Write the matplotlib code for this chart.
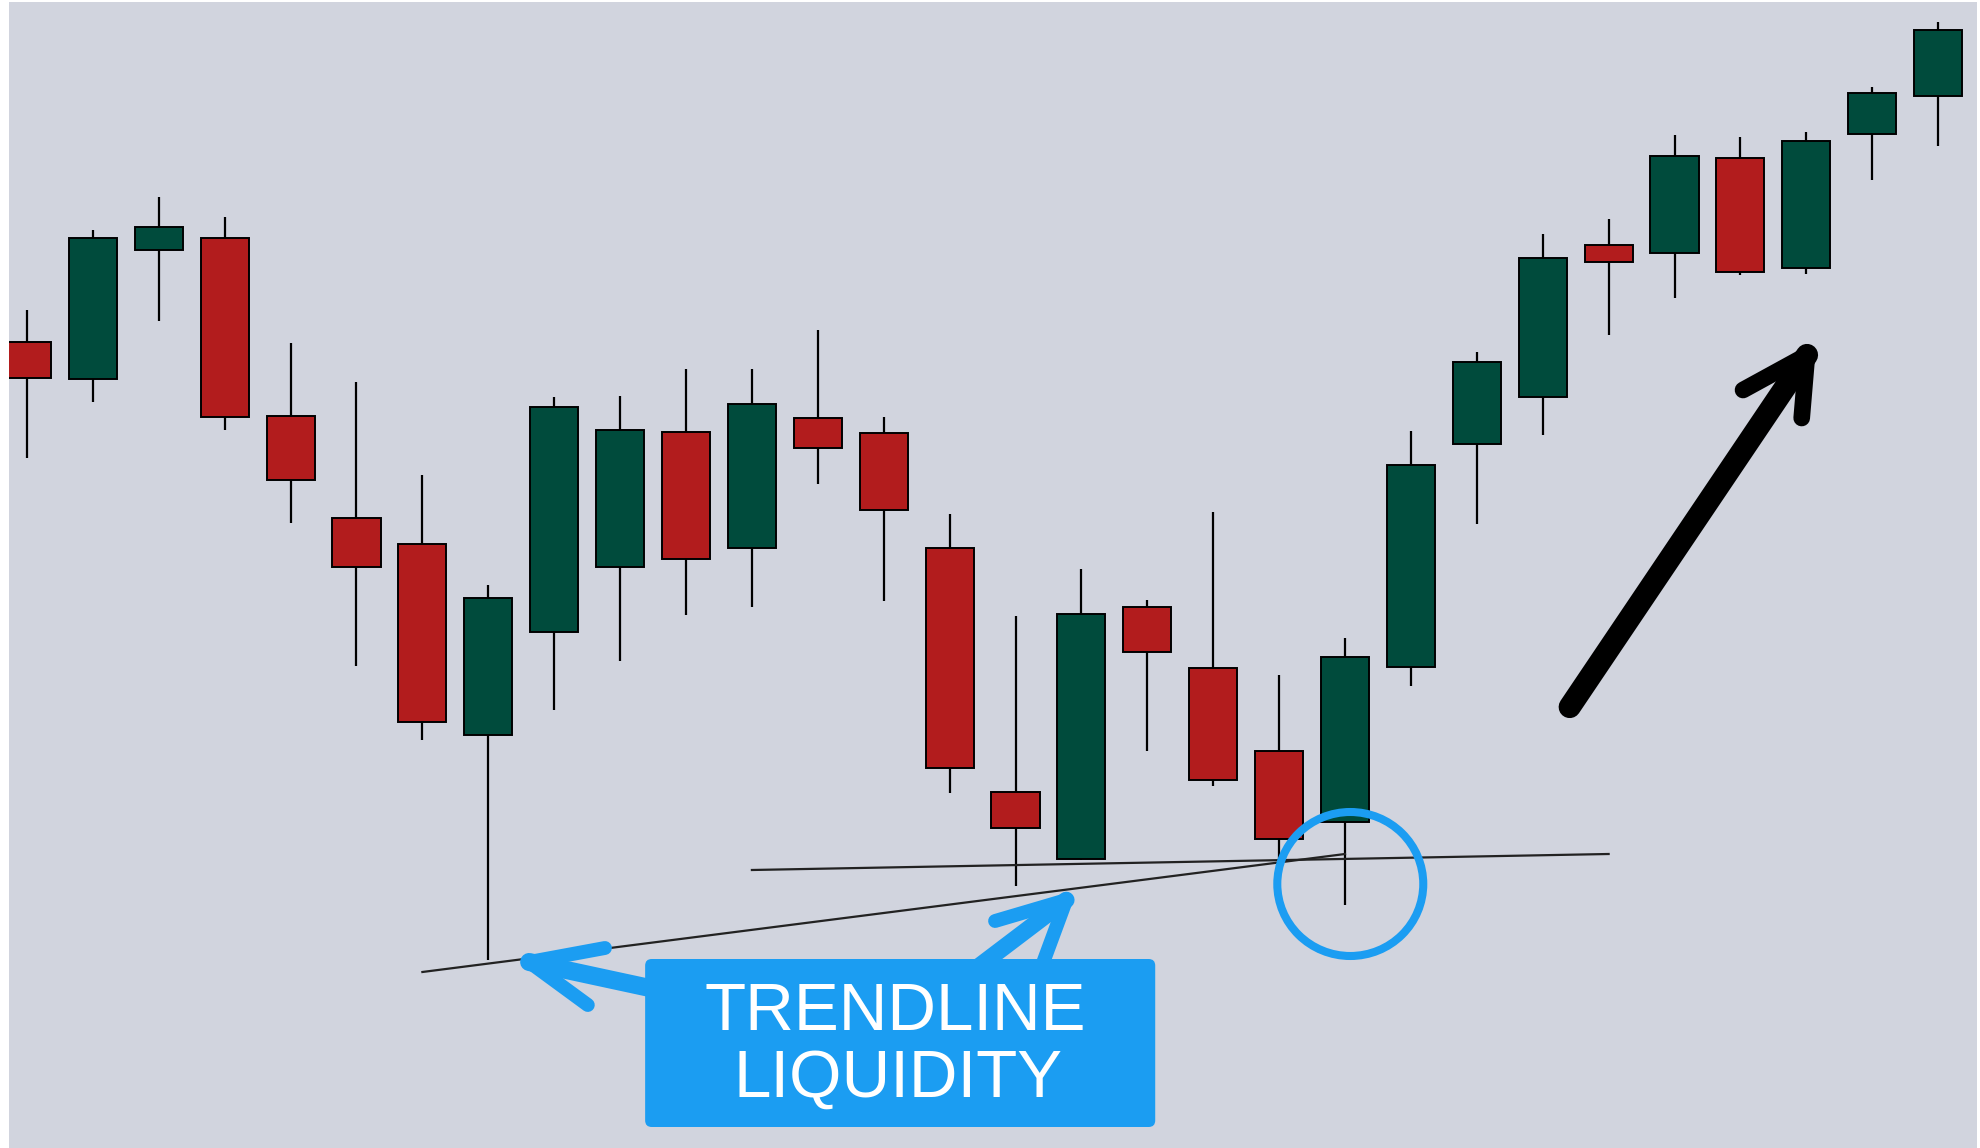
import matplotlib
matplotlib.use('Agg')
import matplotlib.pyplot as plt
from matplotlib.patches import FancyBboxPatch, Ellipse
import numpy as np

# OHLC values (30 candles)
opens  = [80.6, 76.9, 89.8, 91.0, 73.2, 63.0, 60.4, 41.3, 51.6, 58.1,
          71.6, 60.0, 73.0, 71.5, 60.0, 35.6, 28.9, 54.1, 48.0, 39.7,
          32.6, 48.1, 70.4, 75.1, 90.3, 89.5, 99.0, 88.0, 101.4, 105.2]
highs  = [83.8, 91.8, 95.1, 93.1, 80.5, 76.6, 67.3, 56.3, 75.1, 75.2,
          77.9, 77.9, 81.8, 73.1, 63.4, 53.2, 57.9, 54.8, 63.6, 47.3,
          51.0, 71.7, 79.6, 91.4, 92.9, 101.3, 101.1, 101.6, 106.1, 112.6]
lows   = [69.0, 74.6, 82.7, 71.8, 62.5, 48.2, 40.8, 18.8, 43.8, 48.7,
          53.3, 54.1, 66.4, 54.7, 35.5, 26.2, 28.8, 39.7, 36.2, 28.9,
          24.3, 46.2, 62.4, 71.3, 81.3, 85.0, 87.3, 87.4, 96.8, 100.2]
closes = [77.0, 91.0, 92.1, 73.1, 66.8, 58.1, 42.6, 55.0, 74.1, 71.8,
          58.9, 74.4, 70.0, 63.8, 38.0, 32.0, 53.4, 49.6, 36.8, 30.9,
          49.1, 68.3, 78.6, 89.0, 88.6, 99.2, 87.6, 100.7, 105.5, 111.8]

# trendlines (x = candle index, y = price)
trend_x = [6.0, 20.0]
trend_y = [17.6, 29.4]
flat_x = [11.0, 24.0]
flat_y = [27.8, 29.4]

# annotation anchors
label_lines = ['TRENDLINE', 'LIQUIDITY']
box_x = [9.38, 17.12]
box_y = [2.1, 18.9]
circle_center = (20.08, 26.4)
up_arrow = {'tail': (23.41, 44.1), 'tip': (27.01, 79.3),
            'barbs': [(26.04, 75.8), (26.93, 73.0)]}
blue_left = {'tail': (9.45, 16.0), 'tip': (7.62, 18.6),
             'barbs': [(8.77, 20.0), (8.51, 14.3)]}
blue_up = {'tail': (14.45, 18.2), 'tip': (15.77, 24.8),
           'barbs': [(14.69, 22.7), (15.40, 18.2)]}

bg = '#d1d4de'
red = '#b21c1d'
green = '#004b3c'
blue = '#1b9df2'

fig = plt.figure(figsize=(19.8, 11.48), dpi=100, facecolor='white')
ax = fig.add_axes([9 / 1980, 0, 1968 / 1980, 1146 / 1148])
ax.set_facecolor(bg)
ax.set_xlim(-0.273, 29.59)
ax.set_ylim(0, 114.6)
ax.set_xticks([])
ax.set_yticks([])
for s in ax.spines.values():
    s.set_visible(False)

x = np.arange(len(opens))
o = np.array(opens)
c = np.array(closes)
colors = [green if cc >= oo else red for oo, cc in zip(o, c)]

ax.vlines(x, lows, highs, color='black', linewidth=1.6, zorder=2)
ax.bar(x, c - o, bottom=o, width=0.73, color=colors,
       edgecolor='black', linewidth=1.4, zorder=3)

# trendlines
ax.plot(trend_x, trend_y, color='#222222', linewidth=1.6, zorder=4)
ax.plot(flat_x, flat_y, color='#222222', linewidth=1.6, zorder=4)


def draw_arrow(a, color, lw, lw_barb, z):
    tx, ty = a['tip']
    ax.plot([a['tail'][0], tx], [a['tail'][1], ty], color=color, linewidth=lw,
            solid_capstyle='round', zorder=z)
    for bx, by in a['barbs']:
        ax.plot([bx, tx], [by, ty], color=color, linewidth=lw_barb,
                solid_capstyle='round', solid_joinstyle='round', zorder=z)


draw_arrow(up_arrow, 'black', 16, 12, 6)
draw_arrow(blue_left, blue, 13, 10, 5)
draw_arrow(blue_up, blue, 12, 10, 5)

# circle around the sweep candle
ax.add_patch(Ellipse(circle_center, 2.215, 14.4, fill=False, edgecolor=blue,
                     linewidth=5.8, zorder=6))

# label box
asp = 65.9 / 10
box = FancyBboxPatch((box_x[0], box_y[0]), box_x[1] - box_x[0], box_y[1] - box_y[0],
                     boxstyle='round,pad=0,rounding_size=0.1', mutation_aspect=asp,
                     facecolor=blue, edgecolor='none', zorder=7)
ax.add_patch(box)
ax.text(13.18, 11.8, label_lines[0], color='white', fontsize=48.5,
        family='Liberation Sans', ha='center', va='baseline', zorder=8)
ax.text(13.22, 5.1, label_lines[1], color='white', fontsize=48.5,
        family='Liberation Sans', ha='center', va='baseline', zorder=8)

fig.savefig('out.png', dpi=100, facecolor='white')
